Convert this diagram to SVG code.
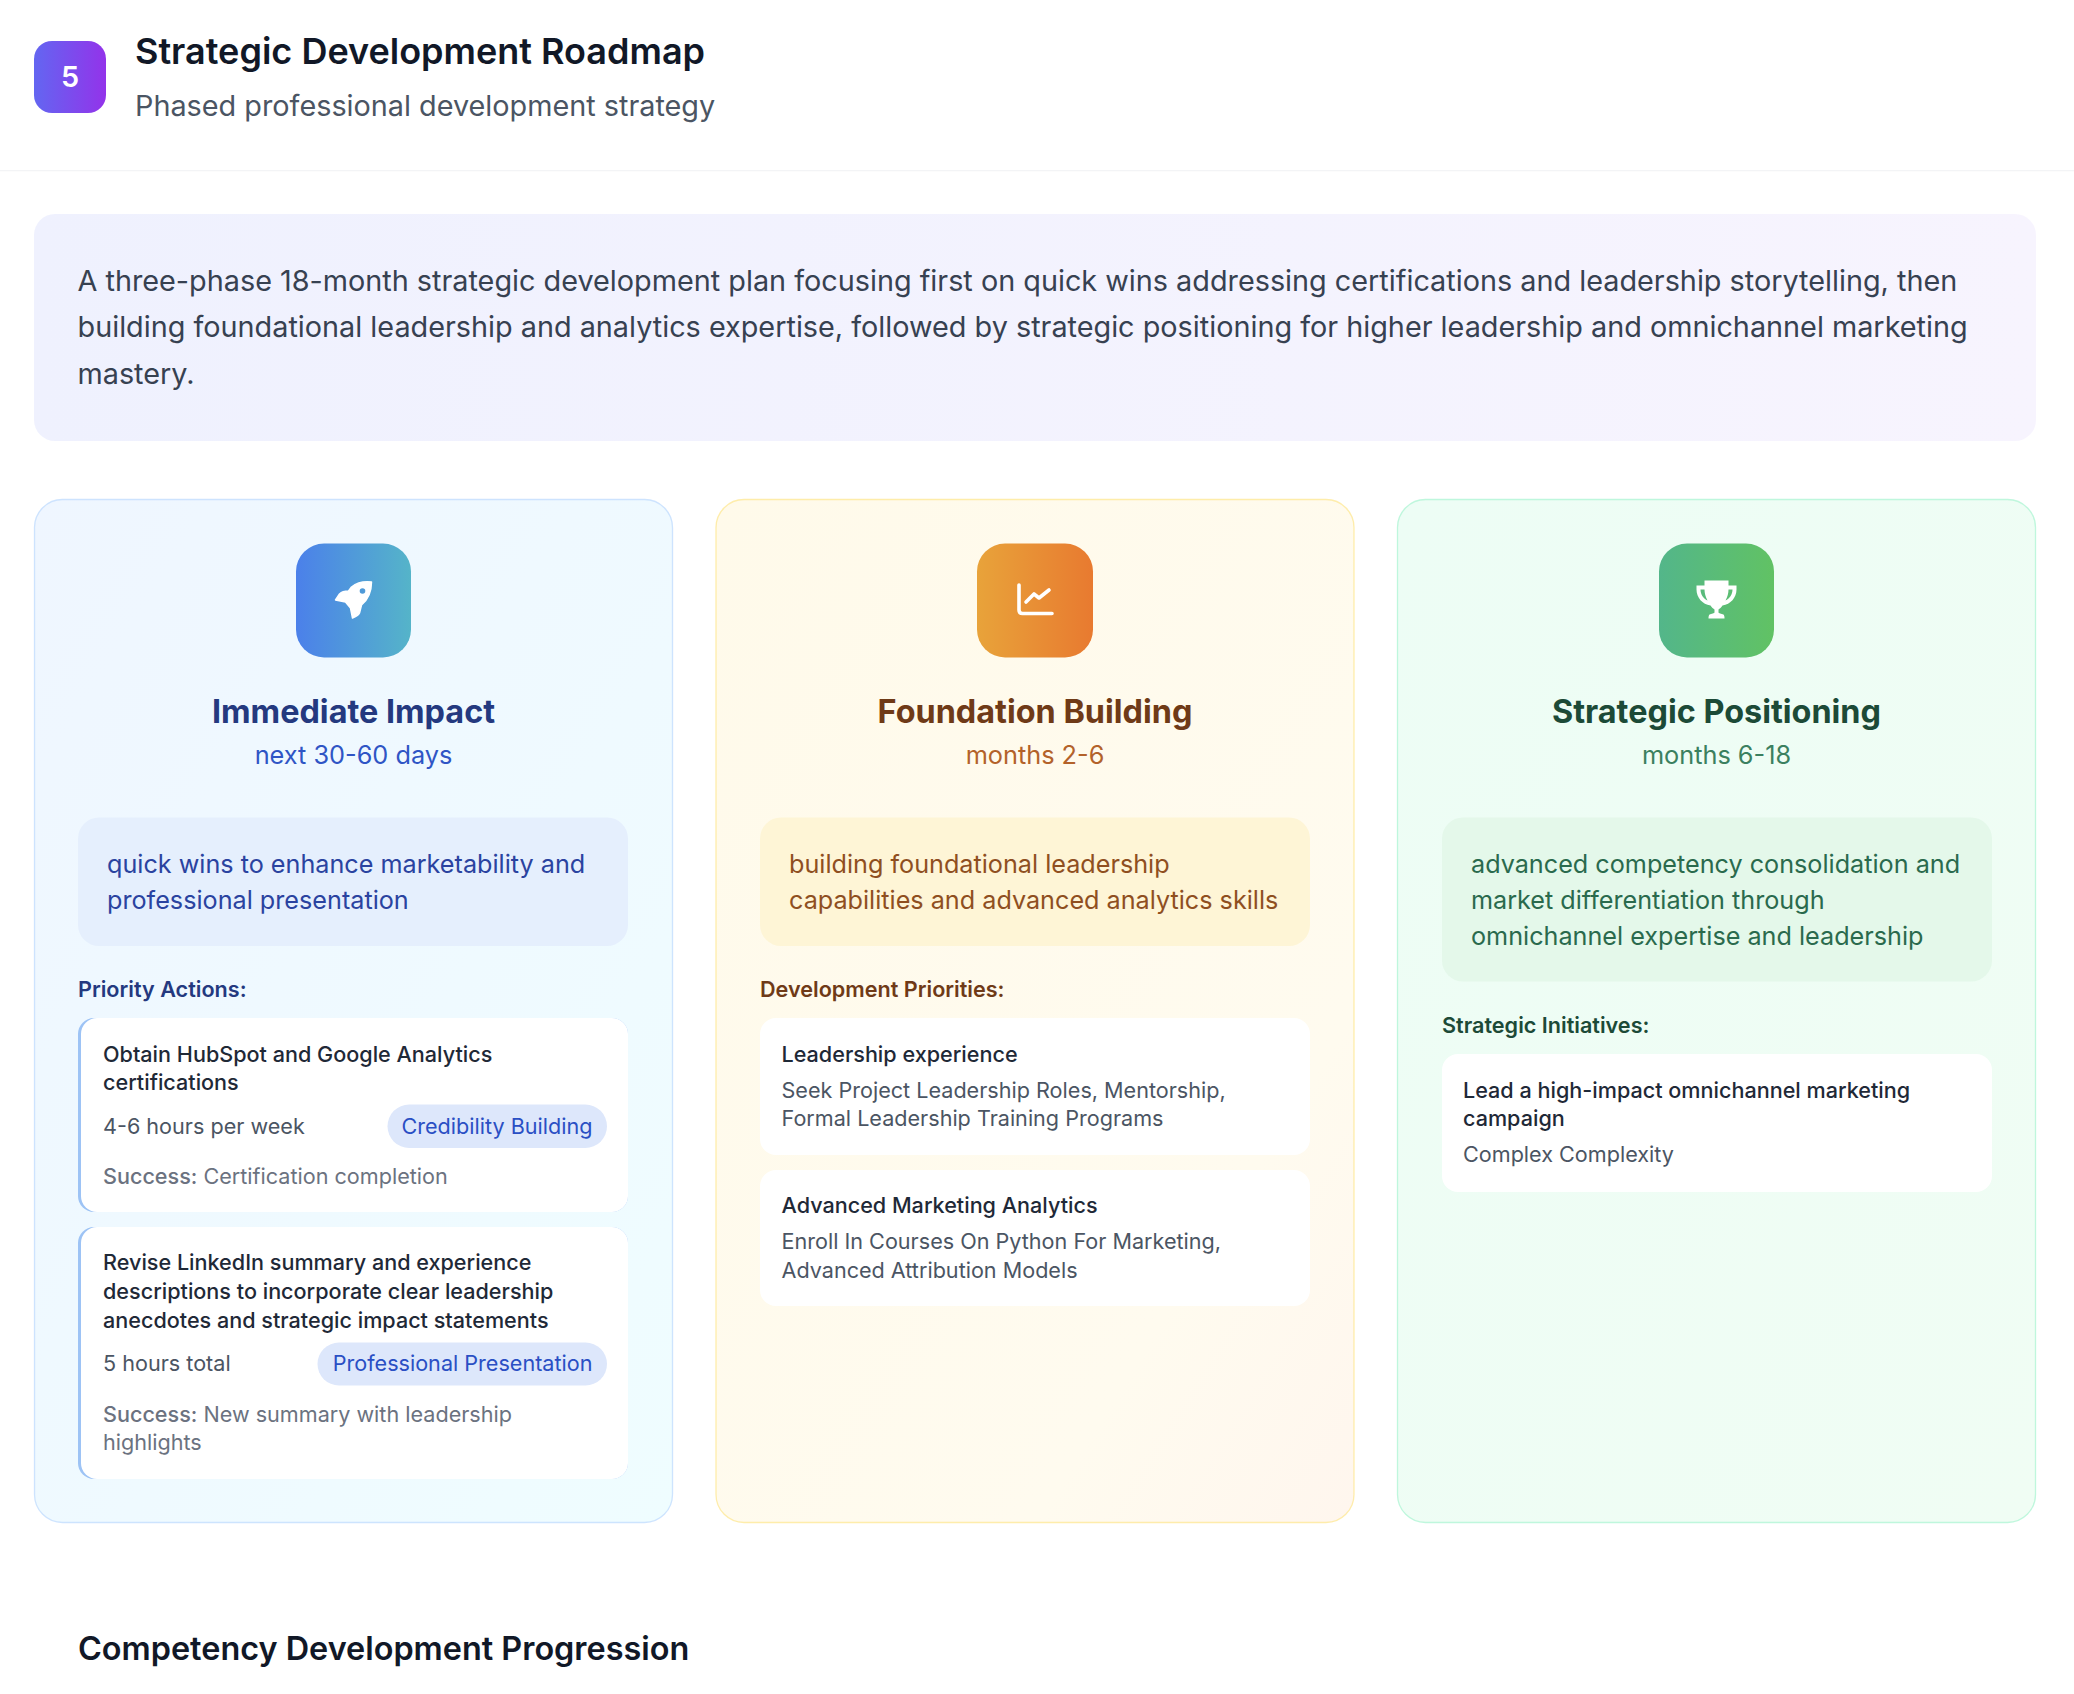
<svg xmlns="http://www.w3.org/2000/svg" width="2074" height="1694" viewBox="0 0 2074 1694">
<style>
text{font-family:Inter,"Liberation Sans",sans-serif;white-space:pre}
.h1{font-size:36px;font-weight:600;fill:#111827}
.sub{font-size:28.800px;fill:#4b5563}
.sum{font-size:28.800px;fill:#374151}
.ph{font-size:32.400px;font-weight:700;text-anchor:middle}
.pt{font-size:25.300px;text-anchor:middle}
.foc{font-size:25.200px}
.lab{font-size:21.600px;font-weight:600}
.it{font-size:21.600px;font-weight:500;fill:#1f2937}
.de{font-size:21.600px;fill:#4b5563}
.su{font-size:21.600px;fill:#6b7280}
.sb{font-weight:500}
.pill{font-size:21.600px;fill:#2a4fc4;text-anchor:end}
.sec{font-size:32.400px;font-weight:600;fill:#111827}
.wc{fill:#fff}
.bar{fill:#9dc3f5}
</style>
<defs>
<linearGradient id="gB" x1="0" y1="0" x2="1" y2="0"><stop offset="0" stop-color="#6366f1"/><stop offset="1" stop-color="#9333ea"/></linearGradient>
<linearGradient id="gS" x1="0" y1="0" x2="1" y2="0"><stop offset="0" stop-color="#eff1fe"/><stop offset="1" stop-color="#f7f4fe"/></linearGradient>
<linearGradient id="g1" x1="0" y1="0" x2="1" y2="1"><stop offset="0" stop-color="#eff6ff"/><stop offset="1" stop-color="#effdff"/></linearGradient>
<linearGradient id="g2" x1="0" y1="0" x2="1" y2="1"><stop offset="0" stop-color="#fffaea"/><stop offset=".75" stop-color="#fffbef"/><stop offset="1" stop-color="#fff6ee"/></linearGradient>
<linearGradient id="g3" x1="0" y1="0" x2="1" y2="1"><stop offset="0" stop-color="#edfdf5"/><stop offset="1" stop-color="#f0fdf4"/></linearGradient>
<linearGradient id="i1" x1="0" y1="0" x2="1" y2="0"><stop offset="0" stop-color="#4b80ea"/><stop offset="1" stop-color="#55b4c9"/></linearGradient>
<linearGradient id="i2" x1="0" y1="0" x2="1" y2="0"><stop offset="0" stop-color="#e8a33a"/><stop offset="1" stop-color="#e87a30"/></linearGradient>
<linearGradient id="i3" x1="0" y1="0" x2="1" y2="0"><stop offset="0" stop-color="#53b68a"/><stop offset="1" stop-color="#61c264"/></linearGradient>
</defs>
<rect width="2074" height="1694" fill="#fff"/>
<g id="header">
<rect x="0" y="170" width="2074" height="1.3" fill="#f3f4f6"/>
<rect x="34" y="41" width="72" height="72" rx="18" fill="url(#gB)"/>
<text x="70" y="87" font-size="28.800" font-weight="600" fill="#fff" text-anchor="middle">5</text>
<text class="h1" x="135" y="63.500">Strategic Development Roadmap</text>
<text class="sub" x="135" y="116">Phased professional development strategy</text>
</g>
<g id="summary">
<rect x="34" y="214" width="2002" height="227" rx="21" fill="url(#gS)"/>
<text class="sum" x="77.500" y="291">A three-phase 18-month strategic development plan focusing first on quick wins addressing certifications and leadership storytelling, then</text>
<text class="sum" x="77.500" y="337">building foundational leadership and analytics expertise, followed by strategic positioning for higher leadership and omnichannel marketing</text>
<text class="sum" x="77.500" y="384">mastery.</text>
</g>
<g id="phase1">
<rect x="34.500" y="499.500" width="638" height="1023" rx="28" fill="url(#g1)" stroke="#bfdbfe" stroke-opacity=".75" stroke-width="1.300"/>
<rect x="296" y="543.500" width="115" height="114" rx="28" fill="url(#i1)"/>
<g transform="translate(353.500 600)" fill="#fff">
<path d="M18-18C10-19 3-17-2-13L-5-9C-9-9-12-8-14-6L-18 0-8 2-3 8-1 18C2 17 5 15 6 13L8 5C14 0 18-8 18-18Z" stroke="#fff" stroke-width="1.500" stroke-linejoin="round"/>
<circle cx="9" cy="-9" r="2.800" fill="#4f9ad8"/>
</g>
<text class="ph" x="353.500" y="723" fill="#24397f">Immediate Impact</text>
<text class="pt" x="353.500" y="764" fill="#2f55c5">next 30-60 days</text>
<rect x="78" y="817.500" width="550" height="128.500" rx="21" fill="#e5effd"/>
<text class="foc" x="107" y="872.500" fill="#2a43a0">quick wins to enhance marketability and</text>
<text class="foc" x="107" y="908.500" fill="#2a43a0">professional presentation</text>
<text class="lab" x="78" y="997" fill="#24397f">Priority Actions:</text>
<g id="action1">
<rect x="78" y="1018" width="550" height="194" rx="16" class="bar"/>
<rect x="81" y="1018" width="547" height="194" rx="16" class="wc"/>
<text class="it" x="103" y="1062">Obtain HubSpot and Google Analytics</text>
<text class="it" x="103" y="1090">certifications</text>
<text class="de" x="103" y="1134">4-6 hours per week</text>
<rect x="387.500" y="1104.500" width="219.500" height="43.500" rx="21.700" fill="#dde7fb"/>
<text class="pill" x="592.500" y="1134">Credibility Building</text>
<text class="su" x="103" y="1184"><tspan class="sb">Success:</tspan> Certification completion</text>
</g>
<g id="action2">
<rect x="78" y="1227" width="550" height="252" rx="16" class="bar"/>
<rect x="81" y="1227" width="547" height="252" rx="16" class="wc"/>
<text class="it" x="103" y="1270">Revise LinkedIn summary and experience</text>
<text class="it" x="103" y="1299">descriptions to incorporate clear leadership</text>
<text class="it" x="103" y="1328">anecdotes and strategic impact statements</text>
<text class="de" x="103" y="1371">5 hours total</text>
<rect x="317.500" y="1342.500" width="289.500" height="43" rx="21.500" fill="#dde7fb"/>
<text class="pill" x="592.500" y="1371">Professional Presentation</text>
<text class="su" x="103" y="1422"><tspan class="sb">Success:</tspan> New summary with leadership</text>
<text class="su" x="103" y="1450">highlights</text>
</g>
</g>
<g id="phase2">
<rect x="716" y="499.500" width="638" height="1023" rx="28" fill="url(#g2)" stroke="#fde68a" stroke-opacity=".7" stroke-width="1.300"/>
<rect x="977" y="543.500" width="116" height="114" rx="28" fill="url(#i2)"/>
<g transform="translate(1035 600)" fill="none" stroke="#fff" stroke-width="3.600" stroke-linecap="round" stroke-linejoin="round">
<path d="M-16-15V10Q-16 13.500-12.500 13.500H17"/>
<path d="M-9 2-1-6 4-2 14-10"/>
</g>
<text class="ph" x="1035" y="723" fill="#6f3a17">Foundation Building</text>
<text class="pt" x="1035" y="764" fill="#b3622a">months 2-6</text>
<rect x="760" y="817.500" width="550" height="128.500" rx="21" fill="#fef5d6"/>
<text class="foc" x="789" y="872.500" fill="#8f4f1f">building foundational leadership</text>
<text class="foc" x="789" y="908.500" fill="#8f4f1f">capabilities and advanced analytics skills</text>
<text class="lab" x="760" y="997" fill="#6f3a17">Development Priorities:</text>
<g id="priority1">
<rect x="760" y="1018" width="550" height="137" rx="16" class="wc"/>
<text class="it" x="781.500" y="1062">Leadership experience</text>
<text class="de" x="781.500" y="1098">Seek Project Leadership Roles, Mentorship,</text>
<text class="de" x="781.500" y="1126">Formal Leadership Training Programs</text>
</g>
<g id="priority2">
<rect x="760" y="1170" width="550" height="136" rx="16" class="wc"/>
<text class="it" x="781.500" y="1213">Advanced Marketing Analytics</text>
<text class="de" x="781.500" y="1249">Enroll In Courses On Python For Marketing,</text>
<text class="de" x="781.500" y="1278">Advanced Attribution Models</text>
</g>
</g>
<g id="phase3">
<rect x="1397.500" y="499.500" width="638" height="1023" rx="28" fill="url(#g3)" stroke="#a7f3d0" stroke-opacity=".7" stroke-width="1.300"/>
<rect x="1659" y="543.500" width="115" height="114" rx="28" fill="url(#i3)"/>
<g transform="translate(1716.500 599.500)" fill="#fff">
<path d="M-12-19H12V-14H20V-10C20-2 14 5 6 6C5 8 3 9 2 10V13C2 14 5 14 7 15C8 16 8 18 8 19H-8C-8 18-8 16-7 15C-5 14-2 14-2 13V10C-3 9-5 8-6 6C-14 5-20-2-20-10V-14H-12ZM-16-10C-16-5-13-1-9 1C-11-3-12-6-12-10ZM16-10H12C12-6 11-3 9 1C13-1 16-5 16-10Z"/>
</g>
<text class="ph" x="1716.500" y="723" fill="#1c4a37">Strategic Positioning</text>
<text class="pt" x="1716.500" y="764" fill="#3b8060">months 6-18</text>
<rect x="1442" y="817.500" width="550" height="164" rx="21" fill="#e4f8ea"/>
<text class="foc" x="1471" y="872.500" fill="#2a6a4d">advanced competency consolidation and</text>
<text class="foc" x="1471" y="908.500" fill="#2a6a4d">market differentiation through</text>
<text class="foc" x="1471" y="944.500" fill="#2a6a4d">omnichannel expertise and leadership</text>
<text class="lab" x="1442" y="1033" fill="#1c4a37">Strategic Initiatives:</text>
<g id="initiative1">
<rect x="1442" y="1054" width="550" height="138" rx="16" class="wc"/>
<text class="it" x="1463" y="1098">Lead a high-impact omnichannel marketing</text>
<text class="it" x="1463" y="1126">campaign</text>
<text class="de" x="1463" y="1162">Complex Complexity</text>
</g>
</g>
<g id="progression">
<text class="sec" x="78" y="1660">Competency Development Progression</text>
</g>
</svg>
